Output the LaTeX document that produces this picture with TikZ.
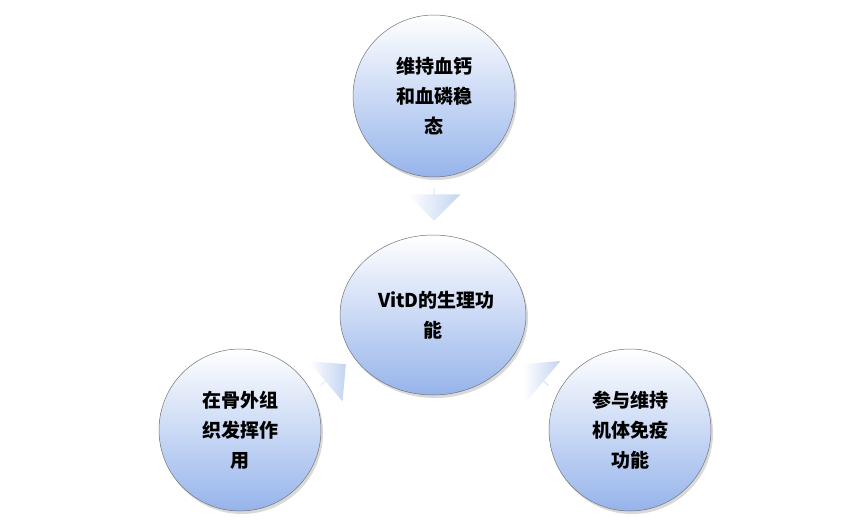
\documentclass[tikz,border=0pt]{standalone}
\usepackage{fontspec}
\newfontfamily\cjk{Noto Sans CJK SC}
\usetikzlibrary{shapes.arrows,shapes.geometric,shadows}
\definecolor{cb}{RGB}{150,180,235}
\definecolor{ab}{RGB}{195,212,240}
\begin{document}
\begin{tikzpicture}[x=1pt,y=-1pt,
  circ/.style={circle,minimum size=162pt,inner sep=0pt,draw=black!55,line width=0.5pt,top color=white,bottom color=cb,
    drop shadow={shadow xshift=2pt,shadow yshift=-3pt,opacity=0.3},align=center,font=\cjk\bfseries\fontsize{19}{30}\selectfont,text width=110pt},
  arr/.style={single arrow,minimum height=33pt,minimum width=53pt,single arrow head extend=9pt,inner sep=0pt,
    left color=white,right color=ab,draw=none}]
\useasboundingbox (0,0) rectangle (865,523);
\node[circ] (t) at (434,96) {维持血钙\\和血磷稳\\态};
\node[circ,ellipse,minimum width=186pt,minimum height=160pt] (c) at (433,315) {VitD的生理功\\能};
\node[circ] (l) at (240,430) {在骨外组\\织发挥作\\用};
\node[circ] (r) at (630,430) {参与维持\\机体免疫\\功能};
\node[arr,rotate=-90] (a1) at (434,204) {};
\node[arr,rotate=40] (a2) at (333,375) {};
\node[arr,rotate=140] (a3) at (536,375) {};
\end{tikzpicture}
\end{document}
